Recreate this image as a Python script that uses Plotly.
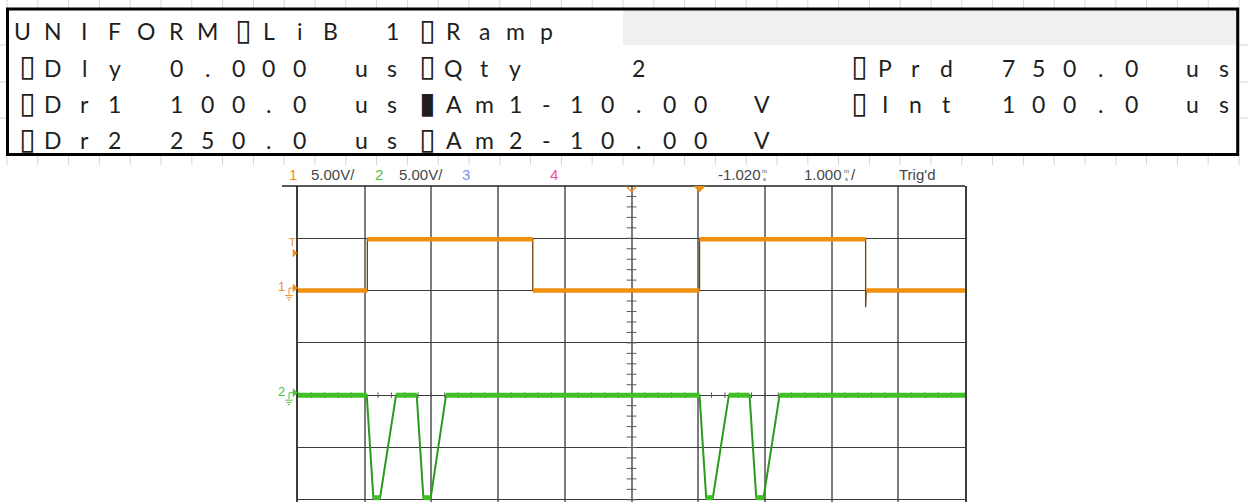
import plotly.graph_objects as go

# ---------------- data ----------------
# LCD-style parameter table (one character per spreadsheet cell)
row1 = ["U", "N", "I", "F", "O", "R", "M", "▯", "L", "i", "B", "", "1", "▯", "R", "a", "m", "p"]
row2 = ["▯", "D", "l", "y", "", "0", ".", "0", "0", "0", "", "u", "s", "▯", "Q", "t", "y", "", "", "", "2",
        "", "", "", "", "", "", "▯", "P", "r", "d", "", "7", "5", "0", ".", "0", "", "u", "s"]
row3 = ["▯", "D", "r", "1", "", "1", "0", "0", ".", "0", "", "u", "s", "▮", "A", "m", "1", "-", "1", "0", ".",
        "0", "0", "", "V", "", "", "▯", "I", "n", "t", "", "1", "0", "0", ".", "0", "", "u", "s"]
row4 = ["▯", "D", "r", "2", "", "2", "5", "0", ".", "0", "", "u", "s", "▯", "A", "m", "2", "-", "1", "0", ".",
        "0", "0", "", "V"]
table_rows = [row1, row2, row3, row4]

# oscilloscope settings
volts_per_div = [5.0, 5.0]      # CH1, CH2
time_per_div = 1.000            # ms/div
delay = -1.020                  # ms at screen centre
trigger_time = 0.0              # ms

# CH1 (orange) waveform: time [ms], volts
ch1_t = [-6.02, -4.98, -4.98, -2.50, -2.50, 0.00, 0.00, 2.49, 2.49, 2.50, 3.98]
ch1_v = [0.0, 0.0, 4.9, 4.9, 0.0, 0.0, 4.9, 4.9, -1.6, 0.0, 0.0]

# CH2 (green) waveform: time [ms], volts
ch2_t = [-6.02, -4.99, -4.89, -4.79, -4.55, -4.24, -4.14, -4.03, -3.80,
         0.00, 0.10, 0.20, 0.44, 0.75, 0.85, 0.96, 1.20, 3.98]
ch2_v = [0.0, 0.0, -9.8, -9.8, 0.0, 0.0, -9.8, -9.8, 0.0,
         0.0, -9.8, -9.8, 0.0, 0.0, -9.8, -9.8, 0.0, 0.0]

# ---------------- layout constants ----------------
W, H = 1248, 502
PX0, PX1, PY0, PY1 = 298, 965, 186, 502          # plot area in pixels
DIV_PX_Y = 52.3
ORANGE = "#F0900F"
ORANGE_DK = "#6E4310"
GREEN = "#40BF27"
GREEN_DK = "#2C9A1C"
TXT = "#1E1E1E"
SCOPE_TXT = "#474747"


def fx(px):
    return (px - PX0) / (PX1 - PX0)


def fy(py):
    return (PY1 - py) / (PY1 - PY0)


# channel ground positions (divisions from top of graticule)
ch1_ground_div = 2
ch2_ground_div = 4
n_div_visible = (PY1 - PY0) / DIV_PX_Y
x_range = [delay - 5 * time_per_div, delay + 5 * time_per_div]
y1_range = [(ch1_ground_div - n_div_visible) * volts_per_div[0], ch1_ground_div * volts_per_div[0]]
y2_range = [(ch2_ground_div - n_div_visible) * volts_per_div[1], ch2_ground_div * volts_per_div[1]]


def flats(t, v):
    xs, ys = [], []
    for i in range(len(t) - 1):
        if v[i] == v[i + 1]:
            xs += [t[i], t[i + 1], None]
            ys += [v[i], v[i + 1], None]
    return xs, ys


fig = go.Figure()

# graticule minor ticks on centre lines
cx = delay
vt_y = []
v = y1_range[1]
while v >= y1_range[0]:
    vt_y.append(v)
    v -= volts_per_div[0] / 5
fig.add_trace(go.Scatter(x=[cx] * len(vt_y), y=vt_y, mode="markers", hoverinfo="skip",
                         marker=dict(symbol="line-ew", size=7, line=dict(width=1, color="#5a5a5a"))))
ht_x = []
t = x_range[0]
while t <= x_range[1] + 1e-9:
    ht_x.append(t)
    t += time_per_div / 5
centre_v = ch1_ground_div * volts_per_div[0] - 4 * volts_per_div[0]
fig.add_trace(go.Scatter(x=ht_x, y=[centre_v] * len(ht_x), mode="markers", hoverinfo="skip",
                         marker=dict(symbol="line-ns", size=4, line=dict(width=1, color="#5a5a5a"))))

# CH2
fig.add_trace(go.Scatter(x=ch2_t, y=ch2_v, yaxis="y2", mode="lines", hoverinfo="skip",
                         line=dict(color=GREEN_DK, width=2)))
fx2, fy2 = flats(ch2_t, ch2_v)
fig.add_trace(go.Scatter(x=fx2, y=fy2, yaxis="y2", mode="lines", hoverinfo="skip",
                         line=dict(color=GREEN, width=5)))
# CH1
fig.add_trace(go.Scatter(x=ch1_t, y=ch1_v, mode="lines", hoverinfo="skip",
                         line=dict(color=ORANGE_DK, width=1.3)))
fx1, fy1 = flats(ch1_t, ch1_v)
fig.add_trace(go.Scatter(x=fx1, y=fy1, mode="lines", hoverinfo="skip",
                         line=dict(color=ORANGE, width=4.5)))

shapes = []
annotations = []

# ---------------- spreadsheet background ----------------
GRID = "#D6D6D6"
CX0, CW = 7.0, 30.8
for k in range(41):
    xp = CX0 + CW * k
    shapes.append(dict(type="line", xref="paper", yref="paper", x0=fx(xp), x1=fx(xp), y0=fy(0), y1=fy(165),
                       line=dict(color=GRID, width=1)))
for yp in [45, 82, 118]:
    shapes.append(dict(type="line", xref="paper", yref="paper", x0=fx(0), x1=fx(W), y0=fy(yp), y1=fy(yp),
                       line=dict(color=GRID, width=1)))
# box
BX0, BX1, BY0, BY1 = 7.5, 1237.7, 9, 154.5
shapes.append(dict(type="rect", xref="paper", yref="paper", x0=fx(BX0), x1=fx(BX1), y0=fy(BY0), y1=fy(BY1),
                   fillcolor="white", line=dict(width=0)))
shapes.append(dict(type="rect", xref="paper", yref="paper", x0=fx(CX0 + CW * 20), x1=fx(BX1), y0=fy(BY0),
                   y1=fy(45), fillcolor="#F0F0F0", line=dict(width=0)))
shapes.append(dict(type="rect", xref="paper", yref="paper", x0=fx(BX0), x1=fx(BX1), y0=fy(BY0), y1=fy(BY1),
                   fillcolor="rgba(0,0,0,0)", line=dict(color="black", width=3)))

row_y = [31, 68, 104.5, 140]
for r, row in enumerate(table_rows):
    for i, ch in enumerate(row):
        if not ch:
            continue
        xc = CX0 + CW * (i + 0.5)
        if ch in ("▯", "▮"):
            annotations.append(dict(text=ch, xref="paper", yref="paper", x=fx(xc + 5), y=fy(row_y[r] - 2),
                                    showarrow=False, xanchor="center", yanchor="middle",
                                    font=dict(family="DejaVu Sans", size=30, color=TXT)))
        else:
            annotations.append(dict(text=ch, xref="paper", yref="paper", x=fx(xc), y=fy(row_y[r]),
                                    showarrow=False, xanchor="center", yanchor="middle",
                                    font=dict(family="Lato", size=23, color=TXT)))

# ---------------- scope header ----------------
HY = 174
hdr = [("1", 287, ORANGE), (f"{volts_per_div[0]:.2f}V/", 309, SCOPE_TXT),
       ("2", 373, "#55C13A"), (f"{volts_per_div[1]:.2f}V/", 397, SCOPE_TXT),
       ("3", 460, "#7C93E8"), ("4", 548, "#F2509E"),
       (f"{delay:.3f}", 716, SCOPE_TXT), (f"{time_per_div:.3f}", 802, SCOPE_TXT),
       ("/", 849, SCOPE_TXT), ("Trig'd", 897, SCOPE_TXT)]
for txt, xl, col in hdr:
    annotations.append(dict(text=txt, xref="paper", yref="paper", x=fx(xl), y=fy(HY), showarrow=False,
                            xanchor="left", yanchor="middle",
                            font=dict(family="Liberation Sans", size=15, color=col)))
for xl in [760, 842]:
    annotations.append(dict(text="m<br>s", xref="paper", yref="paper", x=fx(xl), y=fy(175), showarrow=False,
                            xanchor="left", yanchor="middle",
                            font=dict(family="Liberation Sans", size=6, color=SCOPE_TXT)))

# top line of the scope screen
shapes.append(dict(type="line", xref="paper", yref="paper", x0=fx(282), x1=fx(PX1), y0=fy(PY0), y1=fy(PY0),
                   line=dict(color="#222222", width=1.3)))

# trigger position markers (top)
tw = 0.075
shapes.append(dict(type="path", xref="x", yref="paper",
                   path=f"M {trigger_time - tw},{fy(186.5)} L {trigger_time + tw},{fy(186.5)} L {trigger_time},{fy(192)} Z",
                   fillcolor=ORANGE, line=dict(color=ORANGE, width=1)))
shapes.append(dict(type="path", xref="x", yref="paper",
                   path=f"M {delay - tw},{fy(186.5)} L {delay},{fy(191.5)} L {delay + tw},{fy(186.5)}",
                   line=dict(color=ORANGE, width=1.3)))


def y_px(val, rng):
    return PY1 - (val - rng[0]) / (rng[1] - rng[0]) * (PY1 - PY0)


def ground_marker(label, color, gy):
    annotations.append(dict(text=label, xref="paper", yref="paper", x=fx(287), y=fy(gy - 4), showarrow=False,
                            xanchor="right", yanchor="middle",
                            font=dict(family="Liberation Sans", size=13, color=color)))
    p = lambda a, b: f"{fx(a)},{fy(b)}"
    shapes.append(dict(type="path", xref="paper", yref="paper",
                       path=f"M {p(289, gy + 4)} L {p(289, gy - 2.5)} L {p(293, gy - 2.5)}",
                       line=dict(color=color, width=1)))
    shapes.append(dict(type="path", xref="paper", yref="paper",
                       path=f"M {p(293, gy - 6.5)} L {p(297.5, gy - 2.5)} L {p(293, gy + 1.5)} Z",
                       fillcolor=color, line=dict(color=color, width=0.5)))
    for dy, half in [(5, 3.8), (7.2, 2.4), (9.4, 1.0)]:
        shapes.append(dict(type="line", xref="paper", yref="paper", x0=fx(289 - half), x1=fx(289 + half),
                           y0=fy(gy + dy), y1=fy(gy + dy), line=dict(color=color, width=1)))


ground_marker("1", ORANGE, y_px(0, y1_range))
ground_marker("2", "#55C13A", y_px(0, y2_range))

# trigger level marker (left)
annotations.append(dict(text="T", xref="paper", yref="paper", x=fx(292), y=fy(241.5), showarrow=False,
                        xanchor="center", yanchor="middle",
                        font=dict(family="Liberation Sans", size=11, color=ORANGE)))
shapes.append(dict(type="path", xref="paper", yref="paper",
                   path=f"M {fx(293)},{fy(249)} L {fx(297)},{fy(253)} L {fx(293)},{fy(257)} Z",
                   fillcolor=ORANGE, line=dict(color=ORANGE, width=0.5)))

fig.update_layout(
    width=W, height=H,
    margin=dict(l=PX0, r=W - PX1, t=PY0, b=H - PY1, pad=0),
    paper_bgcolor="white", plot_bgcolor="white",
    showlegend=False,
    xaxis=dict(range=x_range, tick0=x_range[0], dtick=time_per_div, showgrid=True,
               gridcolor="#7C7C7C", gridwidth=1.6, zeroline=False, showticklabels=False,
               ticks="", showline=False, fixedrange=True),
    yaxis=dict(range=y1_range, tick0=0, dtick=volts_per_div[0], showgrid=True,
               gridcolor="#3C3C3C", gridwidth=1, zeroline=False, showticklabels=False,
               ticks="", showline=True, mirror=True, linecolor="#3C3C3C", linewidth=1.6, fixedrange=True),
    yaxis2=dict(range=y2_range, overlaying="y", showgrid=False, zeroline=False,
                showticklabels=False, ticks="", showline=False, fixedrange=True),
    shapes=shapes,
    annotations=annotations,
)

fig.write_html("out.html")
